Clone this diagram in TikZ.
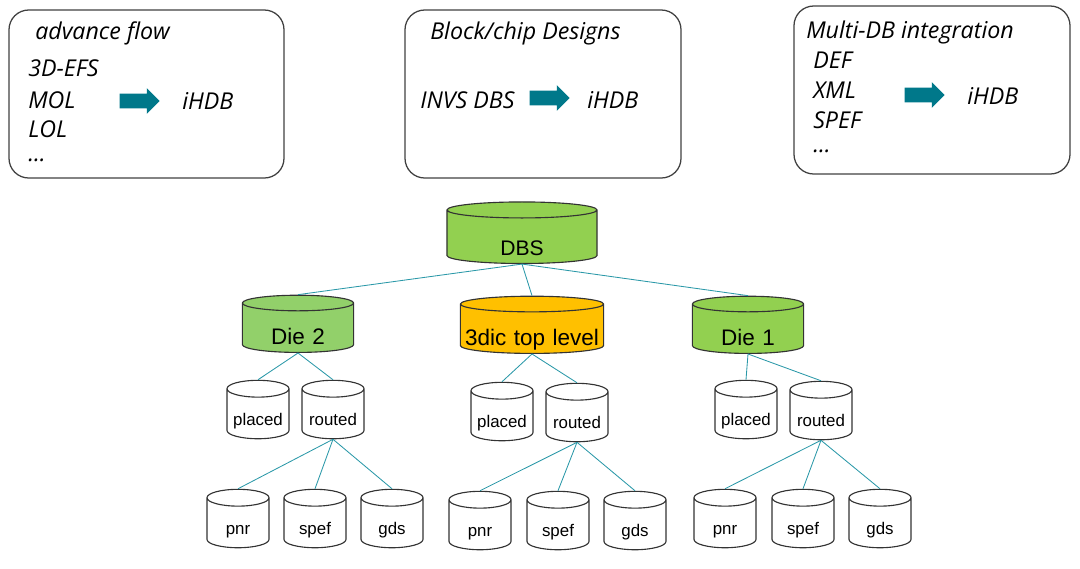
\documentclass[tikz,border=0pt]{standalone}
\usepackage{fontspec}
\setmainfont{Open Sans}
\setsansfont{Liberation Sans}
\usetikzlibrary{shapes.geometric,shapes.arrows}

\definecolor{teal}{HTML}{00788A}
\definecolor{linkteal}{HTML}{2A98A8}
\definecolor{dbgreen}{HTML}{92D050}
\definecolor{diegreen}{HTML}{92D06A}
\definecolor{toporange}{HTML}{FFC000}

\tikzset{
  flowbox/.style={draw=black!75,line width=0.9pt,rounded corners=14pt},
  boxtext/.style={font=\fontsize{16.5}{19}\selectfont\itshape,inner sep=0pt},
  fatarrow/.style={single arrow,fill=teal,draw=none,inner sep=0pt,
    inner ysep=0.175cm,minimum height=1.0cm,single arrow head extend=0.14cm,
    single arrow head indent=0pt},
  db/.style={cylinder,shape border rotate=90,draw=black!80,line width=0.8pt,
    inner sep=0pt,align=center,text depth=0pt,
    font=\sffamily\fontsize{15}{18}\selectfont},
  bigdb/.style={db,minimum width=3.75cm,minimum height=1.45cm,
    text width=2cm,text height=0.925cm,aspect=0.2},
  diedb/.style={db,minimum width=2.78cm,minimum height=1.43cm,
    text width=2cm,text height=0.82cm,aspect=0.195,
    font=\sffamily\fontsize{16}{19}\selectfont},
  smalldb/.style={db,fill=white,minimum width=1.55cm,minimum height=1.46cm,
    text width=1.4cm,text height=0.58cm,aspect=0.3,
    font=\sffamily\fontsize{12}{14}\selectfont},
  link/.style={draw=linkteal,line width=0.6pt}
}

\begin{document}
\begin{tikzpicture}[x=0.025cm,y=-0.025cm]
  \useasboundingbox (0,0) rectangle (1080,568);

  % top boxes
  \draw[flowbox] (9,10) rectangle (284,178);
  \draw[flowbox] (405,10) rectangle (681,178);
  \draw[flowbox] (794,6) rectangle (1070,174);

  %advance flow
  \node[boxtext,anchor=west] (advtitle) at (35,33) {advance flow};
  \node[boxtext,anchor=west] (efs) at (28,68) {3D-EFS};
  \node[boxtext,anchor=west] (mol) at (28,100) {MOL};
  \node[boxtext,anchor=west] (lol) at (28,129) {LOL};
  \node[boxtext,anchor=west] (advdots) at (28,160) {...};
  \node[fatarrow] (advarrow) at (136,101) {};
  \node[boxtext,anchor=west] (advhdb) at (182,101) {iHDB};

  %block/chip
  \node[boxtext,anchor=west] (blktitle) at (430,33) {Block/chip Designs};
  \node[boxtext,anchor=west] (invs) at (420,100) {INVS DBS};
  \node[fatarrow] (blkarrow) at (546,98) {};
  \node[boxtext,anchor=west] (blkhdb) at (587,100) {iHDB};

  %multi-DB
  \node[boxtext,anchor=west] (multititle) at (806,32) {Multi-DB integration};
  \node[boxtext,anchor=west] (def) at (813,60) {DEF};
  \node[boxtext,anchor=west] (xml) at (813,90) {XML};
  \node[boxtext,anchor=west] (spef) at (813,120) {SPEF};
  \node[boxtext,anchor=west] (multidots) at (813,151) {...};
  \node[fatarrow] (multiarrow) at (921,95) {};
  \node[boxtext,anchor=west] (multihdb) at (967,96) {iHDB};

  % tree
  \node[bigdb,fill=dbgreen] (dbs) at (522,237) {DBS};
  \node[diedb,fill=diegreen] (die2) at (298,328) {Die 2};
  \node[diedb,fill=toporange,minimum width=3.58cm,text width=3.4cm,
    aspect=0.115] (top) at (532,329) {3dic top level};
  \node[diedb,fill=dbgreen] (die1) at (748,329) {Die 1};

  \node[smalldb] (placedA) at (258,414) {placed};
  \node[smalldb] (routedA) at (333,414) {routed};
  \node[smalldb] (placedB) at (502,416) {placed};
  \node[smalldb] (routedB) at (577,417) {routed};
  \node[smalldb] (placedC) at (746,414) {placed};
  \node[smalldb] (routedC) at (821,415) {routed};

  \node[smalldb] (pnrA) at (238,523) {pnr};
  \node[smalldb] (spefA) at (315,523) {spef};
  \node[smalldb] (gdsA) at (392,523) {gds};
  \node[smalldb] (pnrB) at (480,525) {pnr};
  \node[smalldb] (spefB) at (558,525) {spef};
  \node[smalldb] (gdsB) at (635,525) {gds};
  \node[smalldb] (pnrC) at (725,523) {pnr};
  \node[smalldb] (spefC) at (803,523) {spef};
  \node[smalldb] (gdsC) at (880,523) {gds};

  \draw[link] (dbs.south) -- (die2.north);
  \draw[link] (dbs.south) -- (top.north);
  \draw[link] (dbs.south) -- (die1.north);

  \foreach \d/\s in {die2/A,top/B,die1/C}{
    \draw[link] (\d.south) -- (placed\s.north);
    \draw[link] (\d.south) -- (routed\s.north);
    \draw[link] (routed\s.south) -- (pnr\s.north);
    \draw[link] (routed\s.south) -- (spef\s.north);
    \draw[link] (routed\s.south) -- (gds\s.north);
  }

\end{tikzpicture}
\end{document}
